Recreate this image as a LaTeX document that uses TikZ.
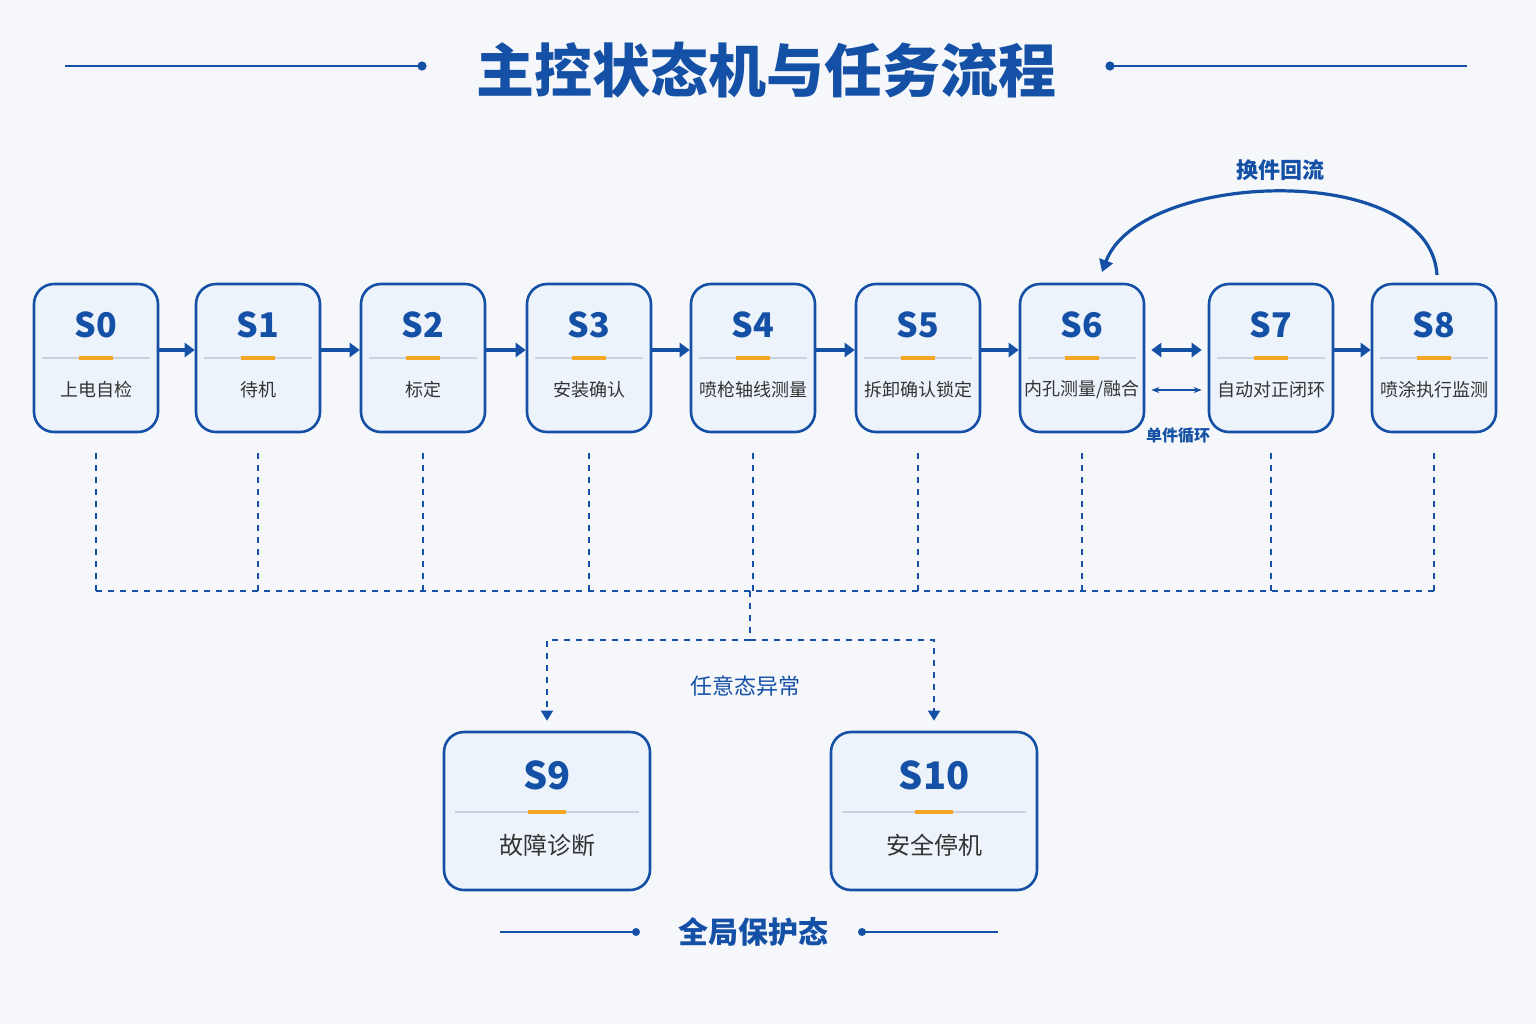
\documentclass[tikz,border=0pt]{standalone}
\usepackage{fontspec}
\setmainfont{Noto Sans CJK SC}
\usetikzlibrary{positioning, arrows.meta}
\definecolor{mainblue}{RGB}{20,80,165}
\definecolor{boxfill}{RGB}{237,243,251}
\definecolor{bgcol}{RGB}{245,247,250}
\definecolor{accent}{RGB}{245,166,35}
\definecolor{sepgray}{RGB}{200,210,222}
\tikzset{
  state/.style={draw=mainblue, line width=1.3pt, fill=boxfill, rounded corners=10pt, minimum width=124*0.5pt, minimum height=148*0.5pt},
  bigstate/.style={state, minimum width=206*0.5pt, minimum height=158*0.5pt},
  tag/.style={text=mainblue, font=\bfseries\fontsize{17}{17}\selectfont},
  stname/.style={text=black!80, font=\fontsize{9}{10}\selectfont},
  flow/.style={-{Triangle[length=5pt,width=7pt]}, draw=mainblue, line width=1.6pt},
  bus/.style={draw=mainblue, dashed, line width=0.8pt}
}
\begin{document}
\begin{tikzpicture}[x=0.5pt,y=-0.5pt]
\fill[bgcol] (0,0) rectangle (1536,1024);
% title
\node[text=mainblue, font=\bfseries\fontsize{29}{29}\selectfont] (title) at (766,70) {主控状态机与任务流程};
\draw[mainblue, line width=0.8pt] (65,66) -- (422,66);
\fill[mainblue] (422,66) circle (2.3pt);
\draw[mainblue, line width=0.8pt] (1110,66) -- (1467,66);
\fill[mainblue] (1110,66) circle (2.3pt);
% states
\foreach \n/\x/\lab in {0/96/上电自检, 1/258/待机, 2/423/标定, 3/589/安装确认, 4/753/喷枪轴线测量, 5/918/拆卸确认锁定, 6/1082/{内孔测量/融合}, 7/1271/自动对正闭环, 8/1434/喷涂执行监测}{
  \node[state] (s\n) at (\x,358) {};
  \node[tag] at (\x,325) {S\n};
  \draw[sepgray, line width=0.6pt] (\x-54,358) -- (\x+54,358);
  \draw[accent, line width=2pt] (\x-17,358) -- (\x+17,358);
  \node[stname] at (\x,390) {\lab};
}
% forward flow
\foreach \a/\b in {0/1, 1/2, 2/3, 3/4, 4/5, 5/6, 7/8}{
  \draw[flow] ([yshift=4pt]s\a.east) -- ([yshift=4pt]s\b.west);
}
\draw[flow, {Triangle[length=5pt,width=7pt]}-{Triangle[length=5pt,width=7pt]}] ([xshift=3pt,yshift=4pt]s6.east) -- ([xshift=-3pt,yshift=4pt]s7.west);
\draw[mainblue, line width=0.9pt, {Stealth[length=4pt]}-{Stealth[length=4pt]}] ([xshift=3pt,yshift=-16pt]s6.east) -- ([xshift=-3pt,yshift=-16pt]s7.west);
\node[text=mainblue, font=\bfseries\fontsize{8}{8}\selectfont] (loop) at (1178,436) {单件循环};
% part change return
\draw[mainblue, line width=1.6pt, -{Triangle[length=6pt,width=7pt]}] (1437,275) .. controls (1430,160) and (1140,170) .. (1102,272);
\node[text=mainblue, font=\bfseries\fontsize{11}{11}\selectfont] (ret) at (1280,170) {换件回流};
% fault bus
\foreach \n in {0,...,8}{
  \draw[bus] ([yshift=-10pt]s\n.south) -- ++(0,139);
}
\draw[bus] (96,591) -- (1437,591);
\coordinate (split) at (750,640);
\draw[bus] (750,591) -- (split);
\node[bigstate] (s9) at (547,811) {};
\node[bigstate] (s10) at (934,811) {};
\draw[bus, -{Triangle[length=5pt,width=6pt]}] (split) -| ([yshift=5pt]s9.north);
\draw[bus, -{Triangle[length=5pt,width=6pt]}] (split) -| ([yshift=5pt]s10.north);
\node[text=mainblue, font=\fontsize{11}{11}\selectfont] (any) at (745,686) {任意态异常};
\foreach \n/\x/\lab in {9/547/故障诊断, 10/934/安全停机}{
  \node[tag, font=\bfseries\fontsize{19}{19}\selectfont] at (\x,775) {S\n};
  \draw[sepgray, line width=0.6pt] (\x-92,812) -- (\x+92,812);
  \draw[accent, line width=2pt] (\x-19,812) -- (\x+19,812);
  \node[stname, font=\fontsize{12}{12}\selectfont] at (\x,845) {\lab};
}
% global protect
\node[text=mainblue, font=\bfseries\fontsize{15}{15}\selectfont] (glob) at (753,932) {全局保护态};
\draw[mainblue, line width=0.6pt] (500,932) -- (636,932);
\fill[mainblue] (636,932) circle (2pt);
\draw[mainblue, line width=0.6pt] (862,932) -- (998,932);
\fill[mainblue] (862,932) circle (2pt);
\end{tikzpicture}
\end{document}
